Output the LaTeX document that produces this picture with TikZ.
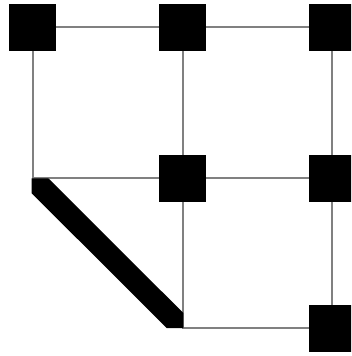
\documentclass[tikz,border=0pt]{standalone}
\usetikzlibrary{calc}
\begin{document}
\begin{tikzpicture}[x=1pt,y=-1pt,
  sq/.style={fill=black,draw=none,minimum size=47pt,inner sep=0pt,outer sep=0pt},
  edge/.style={draw=gray,line width=2pt},
  heavy/.style={fill=black,draw=none}]
\useasboundingbox (0,0) rectangle (351,356);
\clip (0,0) rectangle (351,356);
% grid points
\coordinate (p11) at (32.5,27);
\coordinate (p12) at (182.5,27);
\coordinate (p13) at (332,27);
\coordinate (p21) at (32.5,178);
\coordinate (p22) at (182.5,178);
\coordinate (p23) at (332,178);
\coordinate (p32) at (182.5,328);
\coordinate (p33) at (332,328);
% gray connectors
\draw[edge] (p11) -- (p12) -- (p13);
\draw[edge] (p11) -- (p21) -- (p22) -- (p23);
\draw[edge] (p12) -- (p22) -- (p32) -- (p33);
\draw[edge] (p13) -- (p23) -- (p33);
% heavy diagonal
\fill[heavy] ($(p21)+(-0.8,0.3)$) -- ++(16.6,0) -- ($(p32)+(0.8,-15)$) -- ++(0,15) -- ++(-16.6,0) -- ($(p21)+(-0.8,15.3)$) -- cycle;
% squares
\node[sq] (s11) at (p11) {};
\node[sq] (s12) at (p12) {};
\node[sq] (s13) at (p13) {};
\node[sq] (s22) at (p22) {};
\node[sq] (s23) at (p23) {};
\node[sq] (s33) at (p33) {};
\end{tikzpicture}
\end{document}
